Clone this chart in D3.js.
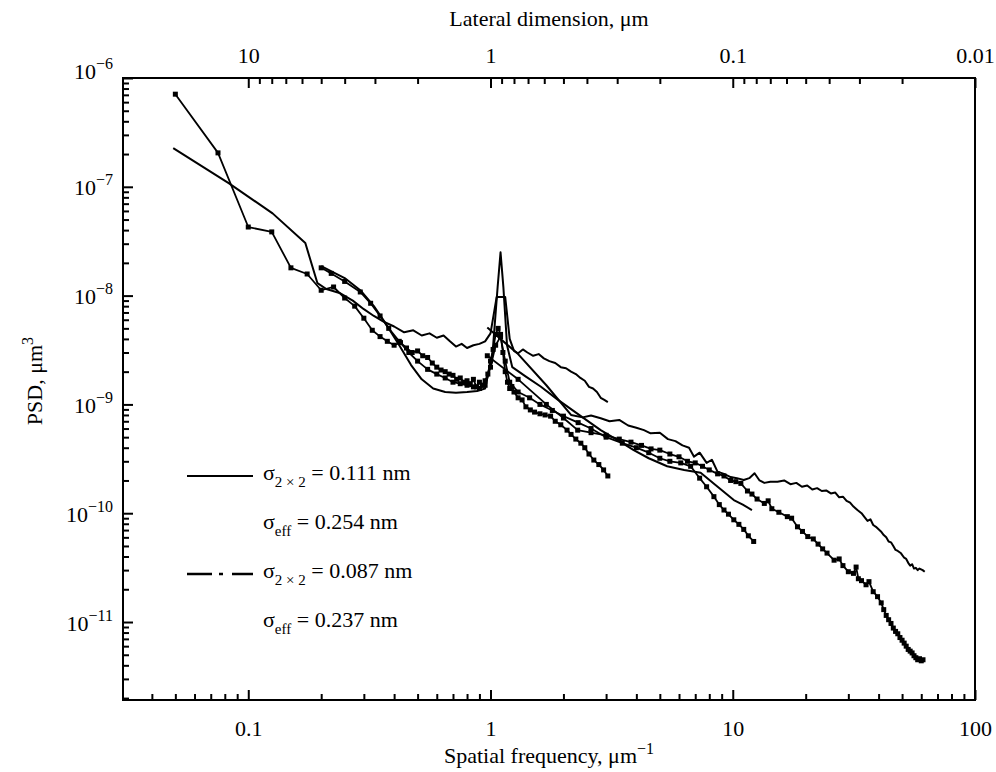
<!DOCTYPE html>
<html>
<head>
<meta charset="utf-8">
<script src="https://cdn.jsdelivr.net/npm/d3@7/dist/d3.min.js"></script>
<style>
  body { margin: 0; background: #fff; }
  svg { display: block; font-family: "Liberation Serif", "Times New Roman", serif; }
</style>
</head>
<body>
<script>
const width = 996;
const height = 772;
const margin = { top: 78, right: 21, bottom: 72, left: 123 };

// PSD curves, [spatial frequency (1/um), PSD (um^3)]
// sample 1 (solid lines)
const s1Scan40 = [[0.049,2.27e-7],[0.083,1.08e-7],[0.126,5.7e-8],[0.172,3.04e-8],[0.193,1.3e-8],[0.21,1.15e-8],[0.24,1.05e-8],[0.27,9e-9],[0.3,7.5e-9],[0.33,6.5e-9],[0.36,5.8e-9],[0.4,5.2e-9],[0.44,4.6e-9],[0.48,4.8e-9],[0.52,4.3e-9],[0.56,4.5e-9],[0.6,4.1e-9],[0.64,4.3e-9],[0.68,3.8e-9],[0.72,3.4e-9],[0.76,3.6e-9],[0.8,3.3e-9],[0.85,3.5e-9],[0.9,3.6e-9],[0.95,3.8e-9],[1.0,4.5e-9],[1.06,9.7e-9],[1.15,9.7e-9],[1.2,4e-9],[1.25,3.1e-9],[1.3,2.95e-9],[1.36,3.2e-9],[1.42,3e-9],[1.5,2.8e-9],[1.58,2.9e-9],[1.66,2.65e-9],[1.75,2.5e-9],[1.85,2.4e-9],[1.95,2.2e-9],[2.05,2.15e-9],[2.15,2e-9],[2.25,1.9e-9],[2.35,1.75e-9],[2.45,1.65e-9],[2.55,1.45e-9],[2.65,1.4e-9],[2.75,1.3e-9],[2.85,1.15e-9],[2.95,1.1e-9],[3.05,1.05e-9]];
const s1Scan5 = [[0.2,1.87e-8],[0.25,1.45e-8],[0.29,1.12e-8],[0.33,8e-9],[0.37,5.5e-9],[0.42,3.5e-9],[0.47,2.3e-9],[0.52,1.7e-9],[0.58,1.4e-9],[0.65,1.3e-9],[0.72,1.28e-9],[0.8,1.3e-9],[0.88,1.33e-9],[0.95,1.4e-9],[1.02,3e-9],[1.07,1.2e-8],[1.1,2.5e-8],[1.13,1.2e-8],[1.17,3.5e-9],[1.23,2.2e-9],[1.4,1.8e-9],[1.61,1.46e-9],[1.9,1.1e-9],[2.36,7.8e-10],[2.85,5.8e-10],[3.4,4.6e-10],[3.9,3.8e-10],[4.5,3.2e-10],[5.36,2.7e-10],[6.3,2.5e-10],[7.37,2.35e-10],[8.66,1.75e-10],[10.1,1.32e-10],[11,1.2e-10],[12,1.07e-10]];
const s1Scan1 = [[0.97,5.1e-9],[1.3,2.9e-9],[1.7,1.5e-9],[2.15,8e-10],[2.4,7.6e-10],[2.6,7.9e-10],[2.85,7.45e-10],[3.1,7.0e-10],[3.4,7.2e-10],[3.7,6.4e-10],[4.0,6.1e-10],[4.3,5.8e-10],[4.58,5.42e-10],[5,5.5e-10],[5.4,4.8e-10],[5.8,4.6e-10],[6.2,4.2e-10],[6.6,4e-10],[6.92,3.31e-10],[7.3,3.6e-10],[7.8,2.9e-10],[8.2,3.1e-10],[8.65,2.41e-10],[9.2,2.3e-10],[9.8,2.15e-10],[10.4,2.1e-10],[11.1,2.02e-10],[11.7,2.1e-10],[12.3,2.33e-10],[12.9,2.0e-10],[13.5,1.9e-10],[14.3,1.95e-10],[15.3,1.95e-10],[16.3,2.0e-10],[17.3,1.85e-10],[18.3,1.9e-10],[19.3,1.75e-10],[20.3,1.8e-10],[21.3,1.65e-10],[22.3,1.7e-10],[23.3,1.6e-10],[24.3,1.62e-10],[25.4,1.52e-10],[26.5,1.55e-10],[27.5,1.4e-10],[28.5,1.42e-10],[29.5,1.3e-10],[30.5,1.25e-10],[31.5,1.15e-10],[32.7,1.07e-10],[34,1.0e-10],[35,9.2e-11],[36,8.5e-11],[37,8.8e-11],[38,7.8e-11],[39,7.5e-11],[40.9,6.8e-11],[42,6.3e-11],[43,6e-11],[44,5.5e-11],[45,5.4e-11],[46,5e-11],[47,4.6e-11],[48,4.5e-11],[49.5,4.28e-11],[51,3.9e-11],[52,3.8e-11],[53,3.5e-11],[54,3.3e-11],[55,3.4e-11],[56,3.1e-11],[57,3.15e-11],[58,3.0e-11],[59,3.1e-11],[60.8,3.0e-11],[62,2.9e-11]];
// sample 2 (dash-dot, drawn dense so the points show)
const s2Scan40 = [[0.05,7.1e-7],[0.075,2.05e-7],[0.1,4.27e-8],[0.125,3.85e-8],[0.15,1.8e-8],[0.175,1.58e-8],[0.2,1.12e-8],[0.225,1.2e-8],[0.25,9.5e-9],[0.275,8e-9],[0.3,6.2e-9],[0.325,4.8e-9],[0.35,4.2e-9],[0.375,3.8e-9],[0.4,3.5e-9],[0.425,3.7e-9],[0.45,3.3e-9],[0.475,3.0e-9],[0.5,3.1e-9],[0.525,2.8e-9],[0.55,2.7e-9],[0.575,2.4e-9],[0.6,2.2e-9],[0.625,2.07e-9],[0.65,2e-9],[0.675,1.9e-9],[0.7,1.85e-9],[0.725,1.7e-9],[0.75,1.75e-9],[0.775,1.6e-9],[0.8,1.65e-9],[0.825,1.55e-9],[0.85,1.7e-9],[0.875,1.45e-9],[0.9,1.6e-9],[0.925,1.5e-9],[0.95,1.65e-9],[0.975,1.9e-9],[1.0,2.5e-9],[1.025,3.2e-9],[1.05,4.4e-9],[1.075,5e-9],[1.1,4.4e-9],[1.125,3e-9],[1.15,2e-9],[1.175,1.6e-9],[1.2,1.4e-9],[1.225,1.46e-9],[1.25,1.3e-9],[1.3,1.15e-9],[1.35,1.1e-9],[1.4,9.5e-10],[1.46,8.9e-10],[1.52,8.5e-10],[1.6,8.2e-10],[1.68,8e-10],[1.77,7.8e-10],[1.85,7e-10],[1.95,6.5e-10],[2.07,5.8e-10],[2.15,5.3e-10],[2.25,4.8e-10],[2.36,4.4e-10],[2.45,4e-10],[2.55,3.5e-10],[2.67,3.08e-10],[2.8,2.8e-10],[2.93,2.5e-10],[3.05,2.2e-10]];
const s2Scan5 = [[0.2,1.8e-8],[0.22,1.6e-8],[0.25,1.35e-8],[0.29,1.08e-8],[0.32,8.5e-9],[0.35,6.5e-9],[0.38,5e-9],[0.42,3.8e-9],[0.46,3e-9],[0.5,2.5e-9],[0.55,2.1e-9],[0.6,1.9e-9],[0.65,1.75e-9],[0.7,1.6e-9],[0.75,1.55e-9],[0.8,1.5e-9],[0.85,1.45e-9],[0.9,1.4e-9],[0.95,1.5e-9],[1.0,2.2e-9],[1.05,3.5e-9],[1.1,4.2e-9],[1.15,2.5e-9],[1.2,1.6e-9],[1.3,1.3e-9],[1.45,1.15e-9],[1.6,1.0e-9],[1.8,8.8e-10],[2.0,7.8e-10],[2.3,6.8e-10],[2.6,6e-10],[3,5e-10],[3.5,4.4e-10],[4,4e-10],[4.5,3.6e-10],[5,3.2e-10],[5.5,3e-10],[6.1,2.9e-10],[6.7,2.7e-10],[7.3,2.1e-10],[7.8,1.75e-10],[8.36,1.42e-10],[8.8,1.2e-10],[9.2,1.07e-10],[9.6,9.8e-11],[10.1,8.7e-11],[10.6,7.9e-11],[11.1,7.1e-11],[11.6,6.2e-11],[12.2,5.5e-11]];
const s2Scan1 = [[0.97,2.8e-9],[1.3,1.7e-9],[1.7,1.0e-9],[2.0,7.5e-10],[2.29,5.8e-10],[2.6,5.5e-10],[3,5.2e-10],[3.4,4.8e-10],[3.8,4.5e-10],[4.2,4.2e-10],[4.6,3.9e-10],[5,3.8e-10],[5.5,3.5e-10],[6,3.3e-10],[6.5,3.0e-10],[7,2.9e-10],[7.5,2.7e-10],[8,2.5e-10],[8.66,2.3e-10],[9.2,2.2e-10],[9.8,2.0e-10],[10.3,1.95e-10],[10.8,1.88e-10],[11.5,1.6e-10],[12,1.5e-10],[12.6,1.35e-10],[13.5,1.23e-10],[14,1.3e-10],[14.5,1.1e-10],[15.5,1.02e-10],[16.8,9.3e-11],[17.5,9e-11],[18.5,7.5e-11],[19.4,6.8e-11],[20.4,6.1e-11],[21.5,5.8e-11],[22.5,5.2e-11],[23.5,4.7e-11],[24.5,4.3e-11],[26.2,3.7e-11],[27.5,3.8e-11],[28.5,3.3e-11],[30,2.9e-11],[31.5,2.8e-11],[32.3,3.2e-11],[33,2.5e-11],[34,2.4e-11],[35.5,2.2e-11],[36.5,2.35e-11],[38,1.9e-11],[39.6,1.71e-11],[41,1.5e-11],[42,1.3e-11],[43,1.15e-11],[44,1.05e-11],[45,9.7e-12],[46,8.8e-12],[47,8.2e-12],[48,7.8e-12],[49,7.2e-12],[50,6.8e-12],[51,6.4e-12],[52,6e-12],[53,5.6e-12],[54,5.4e-12],[55,5.2e-12],[56,4.9e-12],[57,4.7e-12],[58,4.5e-12],[59,4.6e-12],[60,4.4e-12],[61,4.5e-12]];

const solidCurves = [s1Scan40, s1Scan5, s1Scan1];
const dashDotCurves = [s2Scan40, s2Scan5, s2Scan1];

const xDomain = [0.0304, 100];
const yDomain = [1.92e-12, 1e-6];
const xLabels = [0.1, 1, 10, 100];
const yLabels = [-11, -10, -9, -8, -7, -6];
const topLabels = [10, 1, 0.1, 0.01];

const legendRows = [
    { sub: "2 × 2", val: " = 0.111 nm", line: "solid" },
    { sub: "eff", val: " = 0.254 nm", line: null },
    { sub: "2 × 2", val: " = 0.087 nm", line: "dashdot" },
    { sub: "eff", val: " = 0.237 nm", line: null }
];

const svg = d3.select("body").append("svg")
    .attr("width", width)
    .attr("height", height);

const x = d3.scaleLog().domain(xDomain).range([margin.left, width - margin.right]);
const y = d3.scaleLog().domain(yDomain).range([height - margin.bottom, margin.top]);

// all 1..9 x 10^k values inside a range
function logTicks(lo, hi) {
    const out = [];
    for (let e = Math.floor(Math.log10(lo)); e <= Math.ceil(Math.log10(hi)); e++) {
        for (let k = 1; k < 10; k++) {
            const v = k * Math.pow(10, e);
            if (v >= lo * 0.999 && v <= hi * 1.001) out.push(v);
        }
    }
    return out;
}

const isMajor = v => Math.abs(Math.log10(v) - Math.round(Math.log10(v))) < 1e-6;

// bottom axis, ticks pointing in
const xMinor = logTicks(xDomain[0], xDomain[1]).filter(v => !isMajor(v));
svg.append("g")
    .attr("transform", `translate(0,${height - margin.bottom})`)
    .call(d3.axisBottom(x).tickValues(xMinor).tickSize(-6).tickFormat(""));
svg.append("g")
    .attr("transform", `translate(0,${height - margin.bottom})`)
    .call(d3.axisBottom(x).tickValues(xLabels).tickSize(-10).tickFormat(d => d3.format("~g")(d)))
    .selectAll("text").attr("y", 36).attr("dy", 0);

// top axis: lateral dimension = 1/f
const topMinor = logTicks(0.01, 10).filter(v => !isMajor(v)).map(v => 1 / v);
svg.append("g")
    .attr("transform", `translate(0,${margin.top})`)
    .call(d3.axisTop(x).tickValues(topMinor).tickSize(-6).tickFormat(""));
svg.append("g")
    .attr("transform", `translate(0,${margin.top})`)
    .call(d3.axisTop(x).tickValues(topLabels.map(v => 1 / v)).tickSize(-10)
        .tickFormat(d => d3.format("~g")(+(1 / d).toPrecision(3))))
    .selectAll("text").attr("y", -15).attr("dy", 0);

// left axis
const yMinor = logTicks(yDomain[0], yDomain[1]).filter(v => !isMajor(v));
svg.append("g")
    .attr("transform", `translate(${margin.left},0)`)
    .call(d3.axisLeft(y).tickValues(yMinor).tickSize(-6).tickFormat(""));
const yAxis = svg.append("g")
    .attr("transform", `translate(${margin.left},0)`)
    .call(d3.axisLeft(y).tickValues(yLabels.map(e => Math.pow(10, e))).tickSize(-10).tickFormat(""));
yAxis.selectAll(".tick text").each(function (d) {
    const e = Math.round(Math.log10(d));
    const t = d3.select(this).attr("x", -10).attr("dy", 0).attr("y", e === -6 ? 0 : 8);
    t.append("tspan").text("10");
    t.append("tspan").attr("dy", -10).attr("font-size", 16).text("−" + Math.abs(e));
});

svg.selectAll(".domain").remove();
svg.selectAll(".tick line").attr("stroke", "#000").attr("stroke-width", 2);
svg.selectAll(".tick text").attr("font-size", 22).attr("fill", "#000")
    .attr("font-family", "Liberation Serif, serif");

// frame
svg.append("rect")
    .attr("x", margin.left).attr("y", margin.top)
    .attr("width", width - margin.left - margin.right)
    .attr("height", height - margin.top - margin.bottom)
    .attr("fill", "none").attr("stroke", "#000").attr("stroke-width", 2);

// axis titles
const bottomTitle = svg.append("text")
    .attr("x", 549).attr("y", 763).attr("text-anchor", "middle").attr("font-size", 22);
bottomTitle.append("tspan").text("Spatial frequency, μm");
bottomTitle.append("tspan").attr("dy", -9).attr("font-size", 16).text("−1");

svg.append("text")
    .attr("x", 549).attr("y", 26).attr("text-anchor", "middle").attr("font-size", 22)
    .text("Lateral dimension, μm");

const leftTitle = svg.append("text")
    .attr("transform", "translate(42,381) rotate(-90)")
    .attr("text-anchor", "middle").attr("font-size", 22);
leftTitle.append("tspan").text("PSD, μm");
leftTitle.append("tspan").attr("dy", -9).attr("font-size", 16).text("3");

// curves
const line = d3.line().x(d => x(d[0])).y(d => y(d[1]));
const plot = svg.append("g");

plot.selectAll(".solid")
    .data(solidCurves)
    .enter()
    .append("path")
    .attr("class", "solid")
    .attr("d", line)
    .attr("fill", "none")
    .attr("stroke", "#000")
    .attr("stroke-width", 2)
    .attr("stroke-linejoin", "round");

plot.selectAll(".dashdot")
    .data(dashDotCurves)
    .enter()
    .append("path")
    .attr("class", "dashdot")
    .attr("d", line)
    .attr("fill", "none")
    .attr("stroke", "#000")
    .attr("stroke-width", 1.8)
    .attr("stroke-linejoin", "round");

plot.selectAll(".mark")
    .data(dashDotCurves.flat())
    .enter()
    .append("rect")
    .attr("class", "mark")
    .attr("x", d => x(d[0]) - 2.5)
    .attr("y", d => y(d[1]) - 2.5)
    .attr("width", 5)
    .attr("height", 5)
    .attr("fill", "#000");

// legend
const legend = svg.append("g");
legendRows.forEach((r, i) => {
    const by = 480 + i * 49;
    if (r.line === "solid") {
        legend.append("line").attr("x1", 187).attr("x2", 253).attr("y1", by - 4).attr("y2", by - 4)
            .attr("stroke", "#000").attr("stroke-width", 2);
    } else if (r.line === "dashdot") {
        legend.append("line").attr("x1", 187).attr("x2", 253).attr("y1", by - 4).attr("y2", by - 4)
            .attr("stroke", "#000").attr("stroke-width", 2.5)
            .attr("stroke-dasharray", "25,7,4,9,25");
    }
    const t = legend.append("text").attr("x", 263).attr("y", by).attr("font-size", 22);
    t.append("tspan").text("σ");
    t.append("tspan").attr("dy", 7).attr("font-size", 15).text(r.sub);
    t.append("tspan").attr("dy", -7).text(r.val);
});
</script>
</body>
</html>
